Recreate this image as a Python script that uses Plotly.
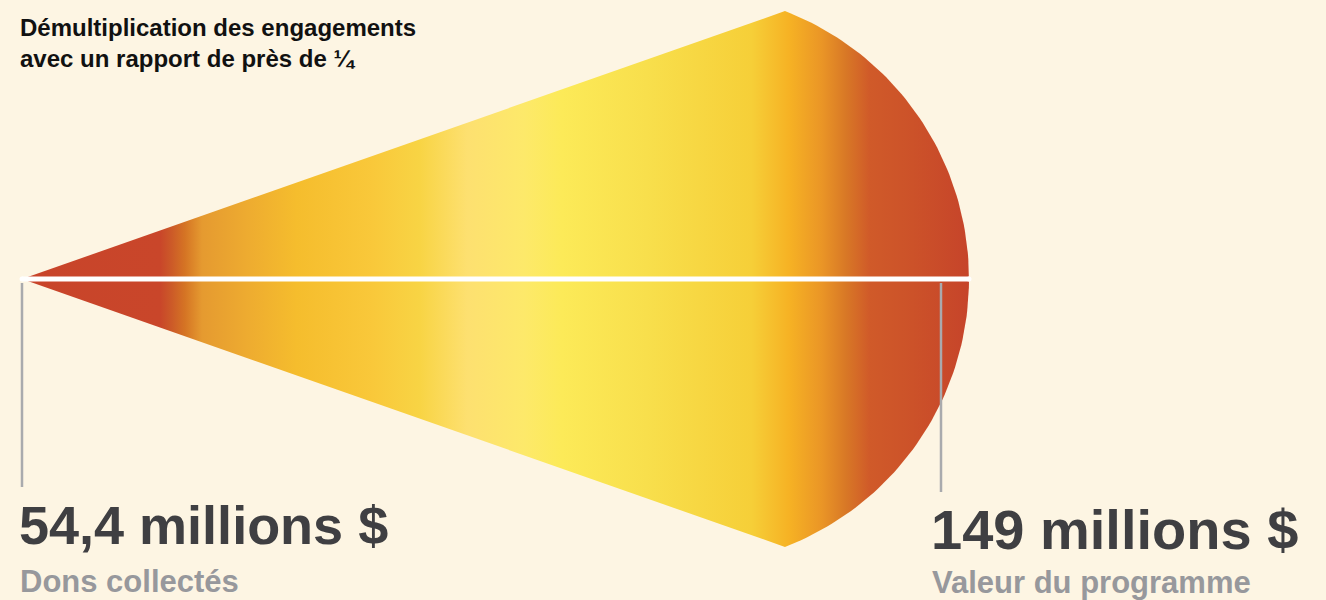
import numpy as np
import plotly.graph_objects as go

# ---- data ----
values = [54.4, 149]
value_labels = ["54,4 millions $", "149 millions $"]
sub_labels = ["Dons collectés", "Valeur du programme"]
title_lines = ["Démultiplication des engagements", "avec un rapport de près de ¼"]

# gradient stops (fraction along the fan, colour)
grad_pos = [0.0, 0.146, 0.158, 0.172, 0.19, 0.24, 0.29, 0.37, 0.42, 0.47, 0.53, 0.57,
            0.66, 0.77, 0.81, 0.845, 0.87, 0.895, 0.94, 1.0]
grad_col = ["#c8442a", "#c9462a", "#cc5a28", "#d57424", "#e59a30", "#eeac30", "#f5bd2d",
            "#f9c83a", "#f8d444", "#fde070", "#fde96a", "#fcea58", "#f8df4c", "#f6cf38",
            "#f6b224", "#ea9526", "#d87826", "#d05a29", "#cc5229", "#c6442a"]

BG = "#fdf5e3"
FONT = "Liberation Sans, Arial, sans-serif"

# ---- geometry (pixel-like coordinates) ----
apex = (22, 279)
tip_x, half = 785, 268
cx, r = 682, 287
a0 = np.arctan2(-half, tip_x - cx)
a1 = np.arctan2(half, tip_x - cx)
ang = np.linspace(a0, a1, 120)
xs = [apex[0]] + list(cx + r * np.cos(ang)) + [apex[0]]
ys = [apex[1]] + list(apex[1] + r * np.sin(ang)) + [apex[1]]
x_end = cx + r

fig = go.Figure()
fig.add_trace(go.Scatter(
    x=xs, y=ys, mode="lines", fill="toself", line=dict(width=0),
    fillgradient=dict(type="horizontal", start=apex[0], stop=x_end,
                      colorscale=[[p, c] for p, c in zip(grad_pos, grad_col)]),
    hoverinfo="skip", showlegend=False))

# white axis line
fig.add_trace(go.Scatter(x=[apex[0], x_end], y=[apex[1], apex[1]], mode="lines+markers",
                         line=dict(color="white", width=5), marker=dict(color="white", size=5),
                         hoverinfo="skip", showlegend=False))

# grey leader lines
leader_x = [apex[0], 941]
leader_bottom = [487, 492]
for lx, lb in zip(leader_x, leader_bottom):
    fig.add_trace(go.Scatter(x=[lx, lx], y=[283, lb], mode="lines",
                             line=dict(color="#a9aaad", width=2.5),
                             hoverinfo="skip", showlegend=False))

# title
fig.add_annotation(x=18, y=12, xref="x", yref="y", xanchor="left", yanchor="top",
                   text="<br>".join(title_lines), showarrow=False, align="left",
                   font=dict(family=FONT, size=24, color="#111111", weight="bold"))

label_x = [17, 929]
label_size = [54, 56]
label_top = [493, 496]
sub_size = [31, 31]
sub_top = [562, 563]
for lx, vl, sl, ls, lt, ss, st in zip(label_x, value_labels, sub_labels,
                                       label_size, label_top, sub_size, sub_top):
    fig.add_annotation(x=lx, y=lt, xref="x", yref="y", xanchor="left", yanchor="top",
                       text=vl, showarrow=False,
                       font=dict(family=FONT, size=ls, color="#3f3f42", weight="bold"))
    fig.add_annotation(x=lx + 1, y=st, xref="x", yref="y", xanchor="left", yanchor="top",
                       text=sl, showarrow=False,
                       font=dict(family=FONT, size=ss, color="#97989c", weight="bold"))

fig.update_xaxes(range=[0, 1326], visible=False, fixedrange=True)
fig.update_yaxes(range=[600, 0], visible=False, fixedrange=True)
fig.update_layout(width=1326, height=600, margin=dict(l=0, r=0, t=0, b=0),
                  paper_bgcolor=BG, plot_bgcolor=BG)

post = "document.body.style.margin='0';document.body.style.background='%s';" % BG
fig.write_html("out.html", config={"displayModeBar": False}, post_script=post)
